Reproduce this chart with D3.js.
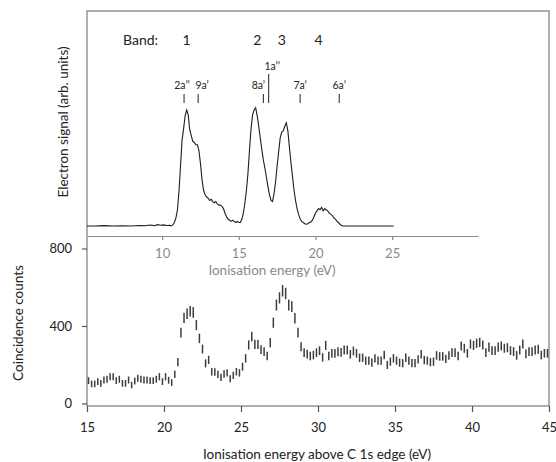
<!DOCTYPE html>
<html><head><meta charset="utf-8">
<script src="https://cdn.jsdelivr.net/npm/d3@7"></script>
<style>
body{margin:0;background:#fff}
svg{display:block}
text{font-family:Lato,"Open Sans",sans-serif}
</style>
</head><body>
<svg id="c" width="556" height="462"></svg>
<script>
// ---------- Main chart: coincidence counts vs energy above C 1s edge ----------
const mainEnergy = [
15.1,15.3,15.5,15.7,15.9,16.1,16.3,16.5,16.7,16.9,
17.1,17.3,17.5,17.7,17.9,18.1,18.3,18.5,18.7,18.9,
19.1,19.3,19.5,19.7,19.9,20.1,20.3,20.5,20.7,20.9,
21.1,21.3,21.5,21.7,21.9,22.1,22.3,22.5,22.7,22.9,
23.1,23.3,23.5,23.7,23.9,24.1,24.3,24.5,24.7,24.9,
25.1,25.3,25.5,25.7,25.9,26.1,26.3,26.5,26.7,26.9,
27.1,27.3,27.5,27.7,27.9,28.1,28.3,28.5,28.7,28.9,
29.1,29.3,29.5,29.7,29.9,30.1,30.3,30.5,30.7,30.9,
31.1,31.3,31.5,31.7,31.9,32.1,32.3,32.5,32.7,32.9,
33.1,33.3,33.5,33.7,33.9,34.1,34.3,34.5,34.7,34.9,
35.1,35.3,35.5,35.7,35.9,36.1,36.3,36.5,36.7,36.9,
37.1,37.3,37.5,37.7,37.9,38.1,38.3,38.5,38.7,38.9,
39.1,39.3,39.5,39.7,39.9,40.1,40.3,40.5,40.7,40.9,
41.1,41.3,41.5,41.7,41.9,42.1,42.3,42.5,42.7,42.9,
43.1,43.3,43.5,43.7,43.9,44.1,44.3,44.5,44.7,44.9];
const mainCounts = [
118,101,101,113,104,121,125,138,138,118,
125,104,104,121,95,116,130,125,121,121,
118,118,125,138,113,138,120,108,150,213,
366,442,463,476,470,405,336,281,207,225,
164,162,150,135,152,158,128,145,164,158,
190,233,302,345,305,305,278,268,245,314,
417,508,545,582,568,508,500,440,366,293,
262,255,245,250,262,272,238,300,245,259,
259,267,264,276,276,254,271,259,236,236,
221,221,211,233,221,221,250,199,216,233,
221,211,208,236,221,208,208,228,254,224,
221,213,216,248,243,243,230,248,262,262,
245,297,285,259,307,300,311,315,302,262,
291,273,273,291,297,285,288,273,268,248,
276,307,256,268,268,276,280,250,259,259];
const mainXTicks = [15,20,25,30,35,40,45];
const mainYTicks = [0,400,800];

// ---------- Inset: photoelectron spectrum ----------
const insetEnergy = [
5.1,5.6,6.2,6.8,7.4,8.0,8.5,8.9,9.2,9.5,9.7,9.9,10.1,10.3,10.5,10.6,
10.7,10.8,10.9,11.0,11.1,11.2,11.3,11.4,11.5,11.6,11.7,11.8,11.9,12.0,
12.1,12.2,12.3,12.4,12.5,12.6,12.7,12.8,12.9,13.0,13.1,13.2,13.3,13.4,
13.5,13.6,13.7,13.8,13.9,14.0,14.1,14.2,14.3,14.4,14.5,14.6,14.7,14.8,
14.9,15.0,15.1,15.2,15.3,15.4,15.5,15.6,15.7,15.8,15.9,16.0,16.1,16.2,
16.3,16.4,16.5,16.6,16.7,16.8,16.9,17.0,17.1,17.2,17.3,17.4,17.5,17.6,
17.7,17.8,17.9,18.0,18.1,18.2,18.3,18.4,18.5,18.6,18.7,18.8,18.9,19.0,
19.1,19.2,19.3,19.4,19.5,19.6,19.7,19.8,19.9,20.0,20.1,20.2,20.3,20.4,
20.5,20.6,20.7,20.8,20.9,21.0,21.1,21.2,21.3,21.4,21.5,21.6,21.7,21.8,
22.5,23.5,24.5,25.1];
const insetSignal = [
0,0,0.3,0,0.2,0,0.4,0.2,0.8,0.3,1.2,0.6,1,0.4,0.5,0,
1,3,7,14,30,52,74,84,95,100,96,83,78,73,
72,70,70,65,54,40,31,27,25,24,22,23,21,20,
21,19,18,18,17,15,11,8,6,5,4,5,4,3,
4,3,3,6,11,20,31,46,66,84,96,100,102,95,
86,76,66,57,50,42,34,27,22,21,28,38,52,64,
76,81,82,86,89,82,68,55,43,31,22,15,10,6,
4,3,2,1.5,2,3,3.5,5,8,11,13,15,14,16,
13,15,14,13,11,10,9,7,6,4,3,1.5,0.5,0,
0,0,0,0];
const insetXTicks = [10,15,20,25];
const bandNames = ["1","2","3","4"];
const bandEnergy = [11.6,16.2,17.8,20.2];
const orbitalNames = ["2a\u2019\u2019","9a\u2019","8a\u2019","1a\u2019\u2019","7a\u2019","6a\u2019"];
const orbitalEnergy = [11.43,12.35,16.6,16.95,19.0,21.55];

const svg = d3.select("#c");

// scales
const x = d3.scaleLinear([15,45],[87,549]);
const y = d3.scaleLinear([-13,2026],[406,11]);
const ix = d3.scaleLinear([5.1,30.6],[87,478]);
const iy = d3.scaleLinear([0,100],[226,110]);

// frame
svg.append("rect").attr("x",87).attr("y",11).attr("width",462).attr("height",395)
  .attr("fill","none").attr("stroke","#7a7a7a").attr("stroke-width",1.2);

// main x axis
const gx = svg.append("g").attr("transform","translate(0,406)")
  .call(d3.axisBottom(x).tickValues(mainXTicks).tickSize(6).tickSizeOuter(0));
gx.select(".domain").remove();
gx.selectAll(".tick line").attr("stroke","#555").attr("stroke-width",1.2);
gx.selectAll(".tick text").attr("y",26).attr("dy",null).attr("font-size",13).attr("fill","#222");

// main y axis
const gy = svg.append("g").attr("transform","translate(87,0)")
  .call(d3.axisLeft(y).tickValues(mainYTicks).tickSize(5).tickPadding(10).tickSizeOuter(0));
gy.select(".domain").remove();
gy.selectAll(".tick line").attr("stroke","#555").attr("stroke-width",1.2);
gy.selectAll(".tick text").attr("font-size",13).attr("fill","#222");

// error-bar dashes
const pts = mainEnergy.map((e,i)=>({e, v:mainCounts[i]}));
const half = v => 8 + 0.9*Math.sqrt(v);
svg.append("g").selectAll("line").data(pts).join("line")
  .attr("x1",d=>x(d.e)).attr("x2",d=>x(d.e))
  .attr("y1",d=>y(d.v - half(d.v))).attr("y2",d=>y(d.v + half(d.v)))
  .attr("stroke","#3c3c3c").attr("stroke-width",1.5);

// main titles
svg.append("text").attr("transform","translate(23,323) rotate(-90)").attr("text-anchor","middle")
  .attr("font-size",13.5).attr("fill","#222").text("Coincidence counts");
svg.append("text").attr("x",317).attr("y",459).attr("text-anchor","middle")
  .attr("font-size",13.5).attr("fill","#222").text("Ionisation energy above C 1s edge (eV)");

// inset axis
const gix = svg.append("g").attr("transform","translate(0,236)")
  .call(d3.axisBottom(ix).tickValues(insetXTicks).tickSize(4).tickSizeOuter(0));
gix.select(".domain").attr("stroke","#8a8a8a").attr("stroke-width",1.2);
gix.selectAll(".tick line").attr("stroke","#8a8a8a").attr("stroke-width",1.2);
gix.selectAll(".tick text").attr("y",22).attr("dy",null).attr("font-size",13).attr("fill","#8a8a8a");
svg.append("text").attr("x",272).attr("y",275).attr("text-anchor","middle")
  .attr("font-size",13.5).attr("fill","#8a8a8a").text("Ionisation energy (eV)");
svg.append("text").attr("transform","translate(68,122) rotate(-90)").attr("text-anchor","middle")
  .attr("font-size",13.5).attr("fill","#222").text("Electron signal (arb. units)");

// inset trace
const trace = insetEnergy.map((e,i)=>[e, insetSignal[i]]);
svg.append("path").datum(trace)
  .attr("d", d3.line().x(d=>ix(d[0])).y(d=>iy(d[1])))
  .attr("fill","none").attr("stroke","#1e1e1e").attr("stroke-width",1.1);

// band labels
svg.append("text").attr("x",123).attr("y",45).attr("font-size",14).attr("fill","#222").text("Band:");
svg.append("g").selectAll("text").data(bandNames).join("text")
  .attr("x",(d,i)=>ix(bandEnergy[i])).attr("y",45).attr("text-anchor","middle")
  .attr("font-size",14).attr("fill","#222").text(d=>d);

// orbital labels and ticks
const labelDx = [-2,4,-5,3.5,0,0];
const og = svg.append("g");
orbitalNames.forEach((n,i)=>{
  const xx = ix(orbitalEnergy[i]);
  const tall = n==="1a\u2019\u2019";
  og.append("line").attr("x1",xx).attr("x2",xx).attr("y1",tall?74:94).attr("y2",103)
    .attr("stroke","#222").attr("stroke-width",1);
  og.append("text").attr("x",xx+labelDx[i]).attr("y",tall?70:89).attr("text-anchor","middle")
    .attr("font-size",10.5).attr("fill","#222").text(n);
});
</script>
</body></html>
